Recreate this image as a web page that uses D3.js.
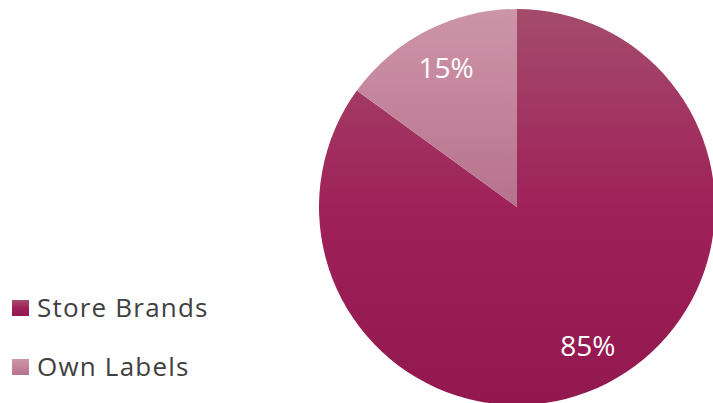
<!DOCTYPE html>
<html>
<head>
<meta charset="utf-8">
<script src="https://cdn.jsdelivr.net/npm/d3@7"></script>
<style>
    body { margin: 0; background: #fff; }
    text { font-family: "Open Sans", sans-serif; }
</style>
</head>
<body>
<script>
let categories = ["Store Brands", "Own Labels"];
let values = [85, 15];
let labels = ["85%", "15%"];

let svgWidth = 713,
    svgHeight = 403,
    center = { x: 517, y: 207 },
    radius = 198,
    labelRadius = 156;

// light top -> dark bottom, one per slice
let gradStops = [
    ["#a44c6c", "#9f2159", "#92184f"],
    ["#cd95a8", "#c3849b", "#b5728c"]
];

let svg = d3.select("body").append("svg")
    .attr("width", svgWidth)
    .attr("height", svgHeight);

let defs = svg.append("defs");
gradStops.forEach((stops, i) => {
    let g = defs.append("linearGradient")
        .attr("id", "grad" + i)
        .attr("x1", 0).attr("y1", 0)
        .attr("x2", 0).attr("y2", 1);
    stops.forEach((c, j) => {
        g.append("stop")
            .attr("offset", j / (stops.length - 1))
            .attr("stop-color", c);
    });
});

let pie = d3.pie().sort(null).value(d => d);
let arcs = pie(values);
let arc = d3.arc().innerRadius(0).outerRadius(radius);
let labelArc = d3.arc().innerRadius(labelRadius).outerRadius(labelRadius);

let g = svg.append("g")
    .attr("transform", "translate(" + center.x + "," + center.y + ")");

g.selectAll("path.slice")
    .data(arcs)
    .enter().append("path")
    .attr("class", "slice")
    .attr("d", arc)
    .attr("fill", (d, i) => "url(#grad" + i + ")");

g.selectAll("text.lbl")
    .data(arcs)
    .enter().append("text")
    .attr("class", "lbl")
    .attr("transform", d => "translate(" + labelArc.centroid(d) + ")")
    .attr("text-anchor", "middle")
    .attr("dy", "0.36em")
    .attr("fill", "#fff")
    .style("font-size", "28px")
    .text((d, i) => labels[i]);

// legend
let legend = svg.append("g");
let item = legend.selectAll("g")
    .data(categories)
    .enter().append("g")
    .attr("transform", (d, i) => "translate(12," + (300 + i * 59) + ")");

item.append("rect")
    .attr("width", 17)
    .attr("height", 16)
    .attr("fill", (d, i) => "url(#grad" + i + ")");

item.append("text")
    .attr("x", 25)
    .attr("y", 17)
    .attr("fill", "#404040")
    .style("font-size", "26px")
    .style("letter-spacing", "1.2px")
    .text(d => d);
</script>
</body>
</html>
